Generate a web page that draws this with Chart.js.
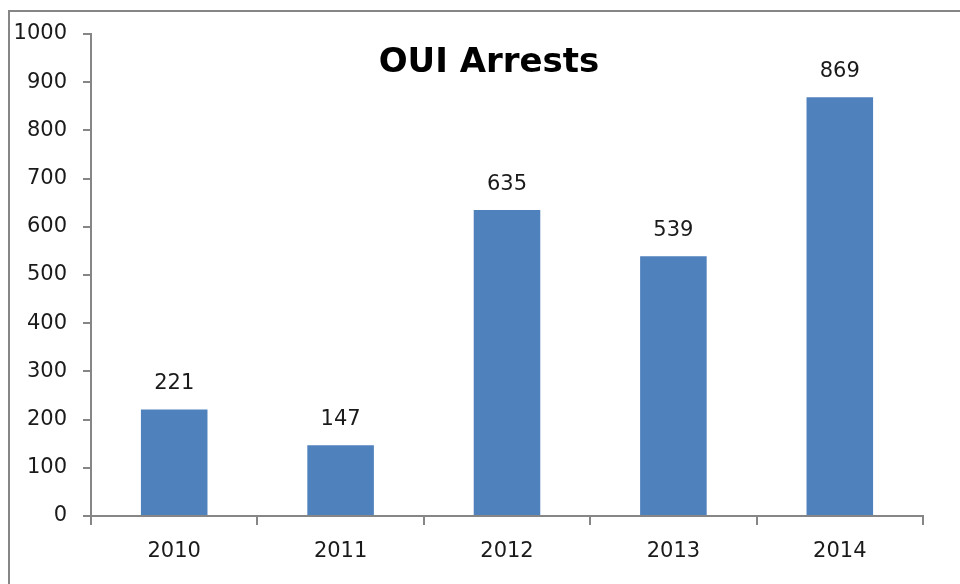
<!DOCTYPE html>
<html>
<head>
<meta charset="utf-8">
<title>OUI Arrests</title>
<script src="https://cdn.jsdelivr.net/npm/chart.js@4"></script>
<style>
  html, body { margin: 0; padding: 0; background: #ffffff; overflow: hidden; }
  #wrap { position: relative; width: 960px; height: 584px; }
</style>
</head>
<body>
<div id="wrap"><canvas id="arrestsChart" width="960" height="584"></canvas></div>
<script>
// data
const years = ['2010', '2011', '2012', '2013', '2014'];
const arrests = [221, 147, 635, 539, 869];
const chartTitle = 'OUI Arrests';

const axisGray = '#868686';
const textColor = '#1a1a1a';
const fontFamily = "'DejaVu Sans', sans-serif";

// outer frame of the chart
const framePlugin = {
  id: 'frame',
  beforeDraw(chart) {
    const ctx = chart.ctx;
    ctx.save();
    ctx.strokeStyle = axisGray;
    ctx.lineWidth = 2;
    ctx.strokeRect(9, 11, 1200, 1000);
    ctx.restore();
  }
};

// title overlaid inside the plot area
const titlePlugin = {
  id: 'overlayTitle',
  afterDraw(chart) {
    const ctx = chart.ctx;
    ctx.save();
    ctx.font = 'bold 34px ' + fontFamily;
    ctx.fillStyle = '#000000';
    ctx.textAlign = 'center';
    ctx.textBaseline = 'alphabetic';
    ctx.fillText(chartTitle, 489, 72);
    ctx.restore();
  }
};

// value labels above each bar
const valueLabels = {
  id: 'valueLabels',
  afterDatasetsDraw(chart) {
    const ctx = chart.ctx;
    const meta = chart.getDatasetMeta(0);
    ctx.save();
    ctx.font = '21px ' + fontFamily;
    ctx.fillStyle = textColor;
    ctx.textAlign = 'center';
    ctx.textBaseline = 'bottom';
    meta.data.forEach((bar, i) => {
      ctx.fillText(String(arrests[i]), bar.x, bar.y - 15);
    });
    ctx.restore();
  }
};

const canvas = document.getElementById('arrestsChart');

new Chart(canvas, {
  type: 'bar',
  data: {
    labels: years,
    datasets: [{
      label: chartTitle,
      data: arrests,
      backgroundColor: '#4F81BD',
      borderWidth: 0,
      categoryPercentage: 1,
      barPercentage: 0.4
    }]
  },
  options: {
    responsive: false,
    animation: false,
    layout: {
      padding: { top: 34, right: 37, bottom: 0, left: 0 }
    },
    plugins: {
      legend: { display: false },
      title: { display: false },
      tooltip: { enabled: false }
    },
    scales: {
      x: {
        border: { color: axisGray, width: 2 },
        grid: {
          offset: true,
          drawOnChartArea: false,
          drawTicks: true,
          tickLength: 9,
          color: axisGray,
          lineWidth: 2
        },
        ticks: {
          color: textColor,
          font: { family: fontFamily, size: 21 },
          padding: 14
        },
        afterFit(scale) {
          scale.height = 68;
        }
      },
      y: {
        min: 0,
        max: 1000,
        border: { color: axisGray, width: 2 },
        grid: {
          drawOnChartArea: false,
          drawTicks: true,
          tickLength: 8,
          color: axisGray,
          lineWidth: 2
        },
        ticks: {
          stepSize: 100,
          color: textColor,
          font: { family: fontFamily, size: 21 },
          padding: 16,
          callback: (value) => String(value)
        },
        afterFit(scale) {
          scale.width = 91;
        }
      }
    }
  },
  plugins: [framePlugin, titlePlugin, valueLabels]
});
</script>
</body>
</html>
